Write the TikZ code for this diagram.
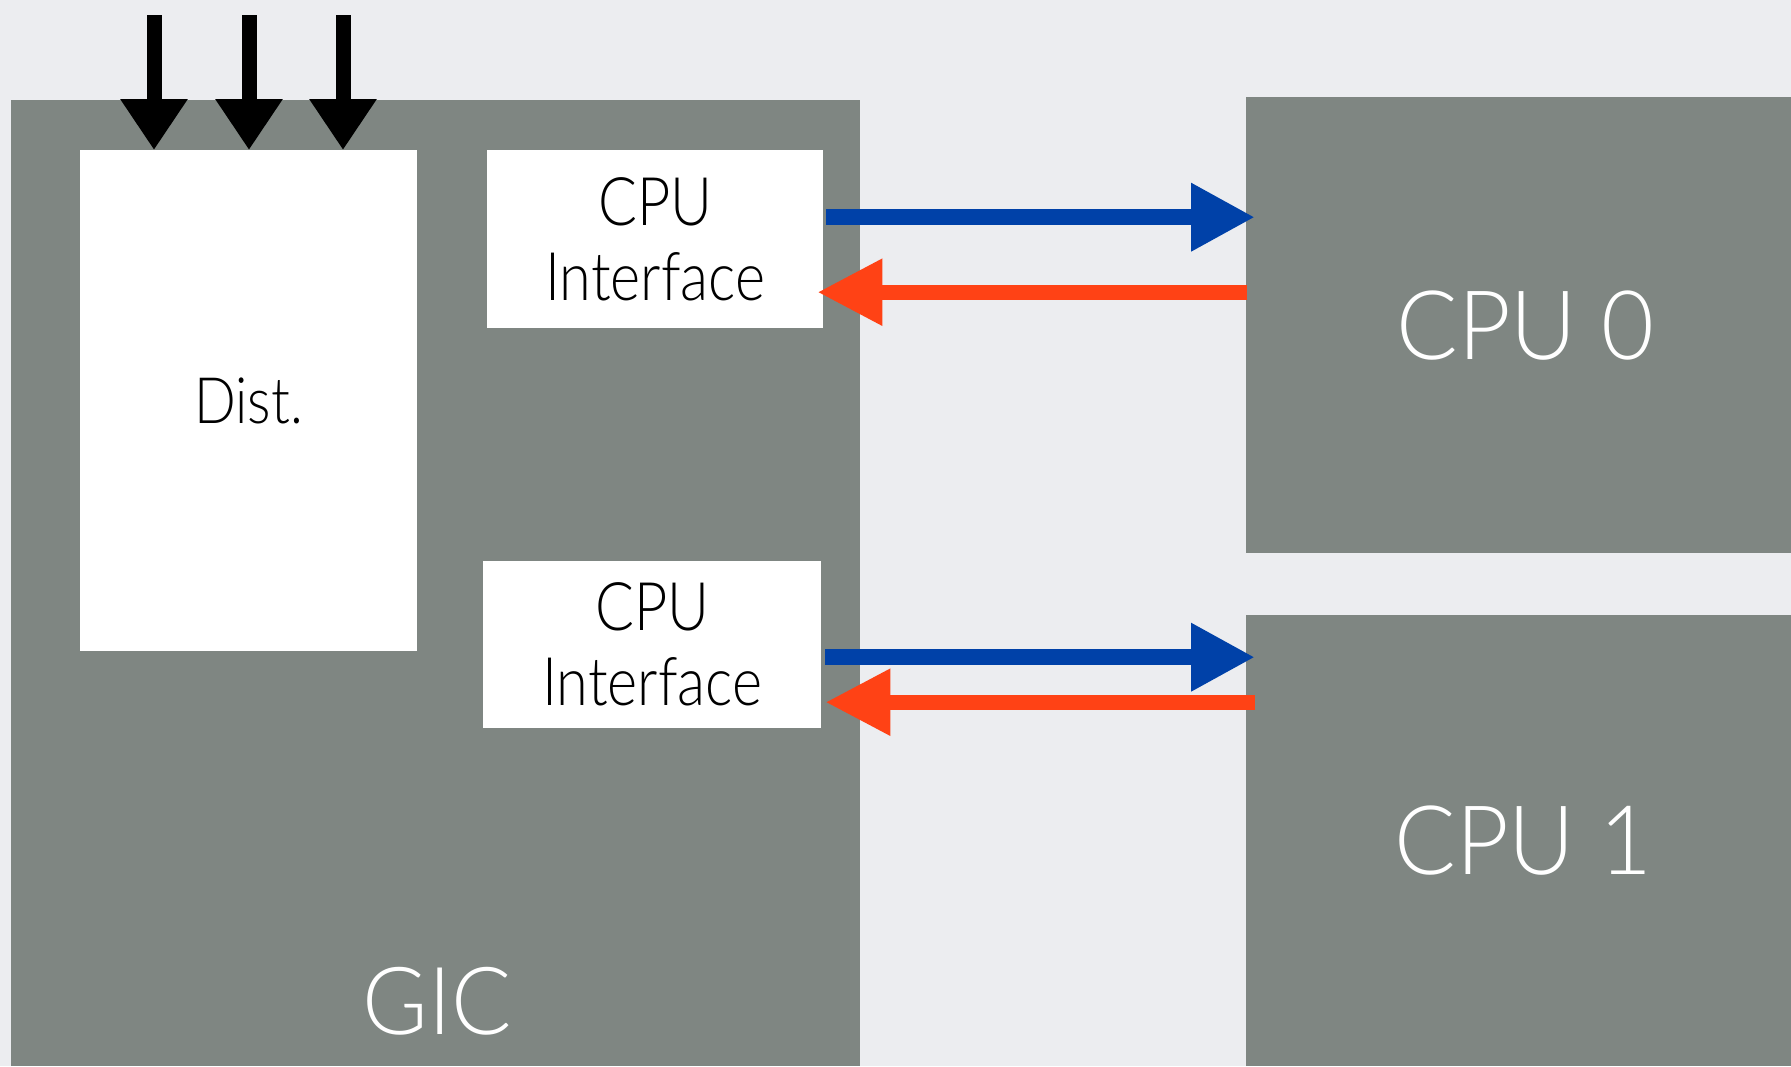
\documentclass[tikz,border=0pt]{standalone}
\usepackage{fontspec}
\setmainfont{Lato}[UprightFont=* Light]
\newfontfamily\innerfont[FakeStretch=0.86]{Lato Light}
\newfontfamily\outerfont[FakeStretch=0.95]{Lato Light}
\usetikzlibrary{arrows.meta}
\definecolor{bgcol}{HTML}{ECEDF0}
\definecolor{boxgray}{HTML}{7F8682}
\definecolor{reqblue}{HTML}{0041A8}
\definecolor{ackred}{HTML}{FF4215}
\tikzset{
  graybox/.style={fill=boxgray, draw=none, inner sep=0pt, anchor=north west,
    text=white, font=\outerfont\fontsize{96}{100}\selectfont},
  whitebox/.style={fill=white, draw=none, inner sep=0pt, anchor=north west,
    align=center, text=black, font=\innerfont\fontsize{67}{75}\selectfont},
  inarrow/.style={draw=black, line width=15pt,
    -{Triangle[length=51pt,width=64pt]}},
  reqarrow/.style={draw=reqblue, line width=16pt,
    -{Triangle[length=64pt,width=64pt]}},
  ackarrow/.style={draw=ackred, line width=15pt,
    -{Triangle[length=65pt,width=63pt]}}
}
\begin{document}
\begin{tikzpicture}[x=1pt,y=-1pt]
  % canvas
  \fill[bgcol] (0,0) rectangle (1791,1066);
  \useasboundingbox (0,0) rectangle (1791,1066);

  % interrupt controller and its parts
  \node[graybox, minimum width=849pt, minimum height=966pt] (gic) at (11,100) {};
  \node[text=white, font=\outerfont\fontsize{94}{100}\selectfont, anchor=base, inner sep=0pt]
    (giclabel) at (437,1034) {GIC};
  \node[whitebox, minimum width=337pt, minimum height=501pt] (dist) at (80,150)
    {\fontsize{64}{75}\selectfont Dist.};
  \node[whitebox, minimum width=336pt, minimum height=178pt] (ci1) at (487,150)
    {CPU\\Interface};
  \node[whitebox, minimum width=338pt, minimum height=167pt] (ci2) at (483,561)
    {CPU\\Interface};

  % processors
  \node[graybox, minimum width=545pt, minimum height=456pt] (cpu0) at (1246,97)
    {\hspace*{14pt}CPU 0};
  \node[graybox, minimum width=545pt, minimum height=451pt] (cpu1) at (1246,615)
    {\hspace*{10pt}CPU 1};

  % incoming interrupt lines
  \coordinate (in1) at (154,15);
  \coordinate (in2) at (249,15);
  \coordinate (in3) at (343,15);
  \draw[inarrow] (in1) -- (in1 |- dist.north);
  \draw[inarrow] (in2) -- (in2 |- dist.north);
  \draw[inarrow] (in3) -- (in3 |- dist.north);

  % CPU interface 0 <-> CPU 0
  \draw[reqarrow] ([shift={(3,-22)}]ci1.east) -- ([shift={(9,-108)}]cpu0.west);
  \draw[ackarrow] ([shift={(1,-33)}]cpu0.west) -- ([shift={(-6,53)}]ci1.east);

  % CPU interface 1 <-> CPU 1
  \draw[reqarrow] ([shift={(4,12.5)}]ci2.east) -- ([shift={(9,-183.5)}]cpu1.west);
  \draw[ackarrow] ([shift={(9,-138.5)}]cpu1.west) -- ([shift={(4,57.5)}]ci2.east);
\end{tikzpicture}
\end{document}
